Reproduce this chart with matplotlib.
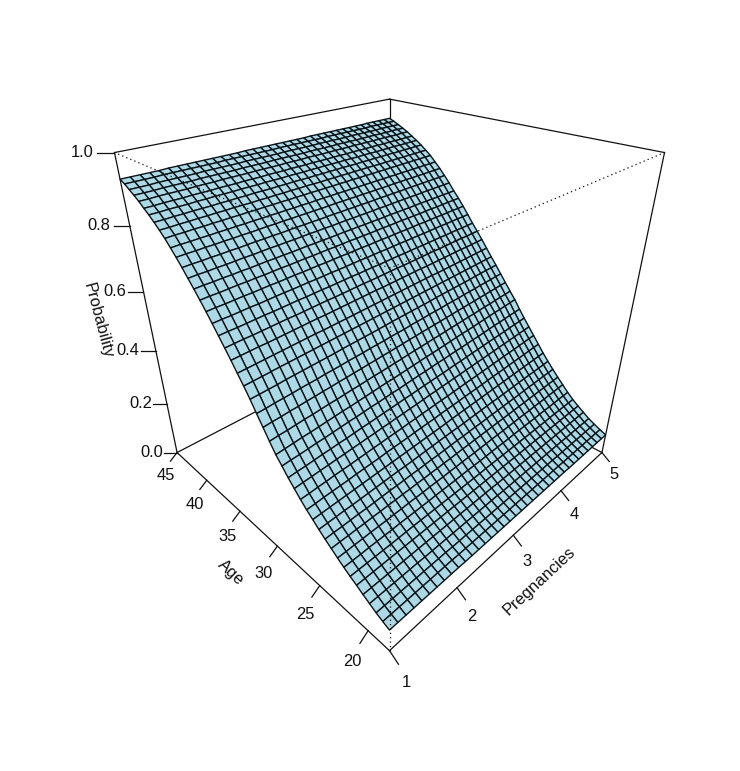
import numpy as np
import matplotlib
matplotlib.use("Agg")
import matplotlib.pyplot as plt
from mpl_toolkits.mplot3d import proj3d

plt.rcParams['font.family'] = ['Liberation Sans', 'DejaVu Sans']

preg_ticks = [1, 2, 3, 4, 5]
age_ticks = [20, 25, 30, 35, 40, 45]
prob_ticks = [0.0, 0.2, 0.4, 0.6, 0.8, 1.0]

P0, P1 = 1, 5
A0, A1 = 18, 45

# probability x 1000. one row per age (18 to 45), one column per pregnancy value (1 to 5)
prob_rows = [
    [77,77,77,77,77,77,77,77,77,77,76,76,76,76,76,76,76,76,76,76,76,76,76,76,76,76,76,76,75,75,75,75,75,75,75,75,75],
    [86,86,86,86,86,86,86,86,86,86,85,85,85,85,85,85,85,85,85,85,85,85,85,85,85,85,85,85,84,84,84,84,84,84,84,84,84],
    [96,96,96,96,96,96,96,96,96,96,95,95,95,95,95,95,95,95,95,95,95,95,95,95,95,95,95,95,94,94,94,94,94,94,94,94,94],
    [108,108,108,108,108,108,108,107,107,107,107,107,107,107,107,107,107,107,107,106,106,106,106,106,106,106,106,106,106,106,106,105,105,105,105,105,105],
    [120,120,120,120,120,120,120,120,120,120,120,120,120,120,120,120,120,120,120,119,119,119,119,119,119,119,119,119,119,119,119,119,119,119,119,119,119],
    [133,133,133,133,133,133,133,133,133,133,133,133,133,133,133,133,133,133,133,133,133,133,133,133,133,133,133,133,133,133,133,133,133,133,133,133,133],
    [145,145,145,145,145,145,145,146,146,146,146,146,146,146,146,146,146,146,146,147,147,147,147,147,147,147,147,147,147,147,147,148,148,148,148,148,148],
    [158,158,158,159,159,159,159,160,160,160,160,160,161,161,161,161,162,162,162,162,162,163,163,163,163,164,164,164,164,164,165,165,165,165,166,166,166],
    [172,172,173,173,174,174,174,175,175,176,176,176,177,177,177,178,178,179,179,179,180,180,181,181,181,182,182,183,183,183,184,184,184,185,185,186,186],
    [187,188,188,189,189,190,190,191,191,192,192,193,193,194,194,195,195,196,197,197,198,198,199,199,200,200,201,201,202,202,203,203,204,204,205,205,206],
    [202,203,203,204,205,205,206,207,208,208,209,210,210,211,212,212,213,214,215,215,216,217,217,218,219,219,220,221,221,222,223,224,224,225,226,226,227],
    [218,219,220,221,221,222,223,224,225,226,227,227,228,229,230,231,232,233,234,234,235,236,237,238,239,240,240,241,242,243,244,245,246,246,247,248,249],
    [235,236,237,238,239,240,241,242,243,244,245,246,247,248,249,250,251,252,253,255,256,257,258,259,260,261,262,263,264,265,266,267,268,269,270,271,272],
    [252,253,255,256,257,258,260,261,262,263,265,266,267,268,270,271,272,273,275,276,277,278,280,281,282,283,285,286,287,288,290,291,292,293,295,296,297],
    [271,272,274,275,277,278,279,281,282,284,285,287,288,289,291,292,294,295,297,298,299,301,302,304,305,306,308,309,311,312,314,315,316,318,319,321,322],
    [292,294,295,297,298,300,301,303,304,306,307,309,310,312,313,315,316,318,320,321,323,324,326,327,329,330,332,333,335,336,338,339,341,342,344,345,347],
    [313,315,316,318,320,321,323,324,326,328,329,331,333,334,336,338,339,341,343,344,346,347,349,351,352,354,356,357,359,361,362,364,365,367,369,370,372],
    [337,339,340,342,344,345,347,349,351,352,354,356,357,359,361,362,364,366,368,369,371,373,374,376,378,379,381,383,384,386,388,390,391,393,395,396,398],
    [360,362,364,366,367,369,371,373,375,376,378,380,382,384,386,387,389,391,393,395,397,398,400,402,404,406,408,409,411,413,415,417,419,420,422,424,426],
    [390,392,393,395,397,398,400,402,403,405,407,408,410,412,413,415,417,418,420,422,423,425,427,428,430,432,433,435,437,438,440,442,443,445,447,448,450],
    [421,423,424,426,427,429,430,432,433,435,436,438,439,441,442,444,445,447,448,450,451,453,454,456,457,459,460,462,463,465,466,468,469,471,472,474,475],
    [452,453,455,456,457,459,460,461,463,464,465,467,468,469,471,472,473,475,476,477,479,480,481,483,484,485,487,488,489,491,492,493,495,496,497,499,500],
    [484,485,486,487,489,490,491,492,493,494,495,497,498,499,500,501,502,503,505,506,507,508,509,510,511,513,514,515,516,517,518,519,521,522,523,524,525],
    [513,514,515,516,517,518,519,520,521,522,523,524,525,526,527,528,529,530,531,532,533,534,535,536,537,538,539,540,541,542,543,544,545,546,547,548,549],
    [540,541,542,543,544,545,546,547,548,549,549,550,551,552,553,554,555,556,557,558,559,560,561,562,563,564,565,565,566,567,568,569,570,571,572,573,574],
    [568,569,570,571,571,572,573,574,575,576,577,577,578,579,580,581,582,583,584,584,585,586,587,588,589,590,590,591,592,593,594,595,596,596,597,598,599],
    [594,595,596,596,597,598,599,600,600,601,602,603,604,604,605,606,607,608,608,609,610,611,612,612,613,614,615,616,617,617,618,619,620,621,621,622,623],
    [620,621,621,622,623,624,624,625,626,627,627,628,629,629,630,631,632,632,633,634,634,635,636,637,637,638,639,639,640,641,642,642,643,644,644,645,646],
    [646,647,647,648,649,649,650,651,652,652,653,654,654,655,656,656,657,658,659,659,660,661,661,662,663,663,664,665,665,666,667,668,668,669,670,670,671],
    [671,672,672,673,674,674,675,676,676,677,678,678,679,680,680,681,682,682,683,684,684,685,686,686,687,688,688,689,690,690,691,692,692,693,694,694,695],
    [695,696,696,697,698,698,699,699,700,701,701,702,703,703,704,705,705,706,707,707,708,708,709,710,710,711,712,712,713,713,714,715,715,716,717,717,718],
    [718,719,719,720,720,721,721,722,723,723,724,724,725,726,726,727,727,728,729,729,730,730,731,731,732,733,733,734,734,735,736,736,737,737,738,738,739],
    [740,741,741,742,742,743,744,744,745,746,746,747,747,748,749,749,750,750,751,752,752,753,753,754,755,755,756,757,757,758,758,759,760,760,761,761,762],
    [762,763,763,764,764,765,765,766,767,767,768,768,769,770,770,771,771,772,773,773,774,774,775,775,776,777,777,778,778,779,780,780,781,781,782,782,783],
    [783,784,784,785,785,786,786,787,787,788,789,789,790,790,791,791,792,792,793,794,794,795,795,796,796,797,797,798,799,799,800,800,801,801,802,802,803],
    [802,803,803,804,804,805,805,806,806,807,807,808,808,809,809,810,810,811,812,812,813,813,814,814,815,815,816,816,817,817,818,818,819,819,820,820,821],
    [821,822,822,823,823,824,824,825,825,826,826,827,827,828,828,829,829,830,830,831,831,832,832,833,833,834,834,835,835,836,836,837,837,838,838,839,839],
    [837,837,838,838,839,839,840,840,841,841,841,842,842,843,843,844,844,845,845,845,846,846,847,847,848,848,849,849,849,850,850,851,851,852,852,853,853],
    [852,852,853,853,854,854,854,855,855,856,856,857,857,857,858,858,859,859,859,860,860,861,861,862,862,862,863,863,864,864,865,865,865,866,866,867,867],
    [866,866,867,867,867,868,868,869,869,869,870,870,870,871,871,871,872,872,872,873,873,874,874,874,875,875,875,876,876,876,877,877,878,878,878,879,879],
    [878,878,879,879,879,880,880,880,881,881,881,882,882,882,883,883,883,884,884,884,885,885,885,886,886,886,887,887,887,888,888,888,889,889,889,890,890],
    [891,891,892,892,892,892,893,893,893,894,894,894,894,895,895,895,895,896,896,896,897,897,897,897,898,898,898,899,899,899,899,900,900,900,900,901,901],
    [902,902,902,903,903,903,903,904,904,904,904,904,905,905,905,905,906,906,906,906,906,907,907,907,907,908,908,908,908,908,909,909,909,909,910,910,910],
    [912,912,912,913,913,913,913,913,914,914,914,914,914,915,915,915,915,915,916,916,916,916,916,917,917,917,917,917,918,918,918,918,918,919,919,919,919],
    [922,922,922,922,923,923,923,923,923,923,923,924,924,924,924,924,924,924,925,925,925,925,925,925,925,926,926,926,926,926,926,926,927,927,927,927,927],
    [930,930,930,930,930,931,931,931,931,931,931,931,931,931,932,932,932,932,932,932,932,932,932,933,933,933,933,933,933,933,933,933,934,934,934,934,934],
]

prob = np.array(prob_rows) / 1000
age = np.linspace(A0, A1, prob.shape[0])
preg = np.linspace(P0, P1, prob.shape[1])

W, H = 740, 771
side = 570
cx, cy = 381.8, 329.5

fig = plt.figure(figsize=(W / 100, H / 100), dpi=100)
ax = fig.add_axes([(cx - side / 2) / W, (H - cy - side / 2) / H, side / W, side / H],
                  projection='3d', computed_zorder=False)
ax.set_xlim(P0, P1, view_margin=0)
ax.set_ylim(A0, A1, view_margin=0)
ax.set_zlim(0, 1, view_margin=0)
ax.set_box_aspect((1, 1, 1))
ax.view_init(elev=29.5, azim=225)
ax.set_proj_type('persp', focal_length=0.211)
ax.set_axis_off()
M = ax.get_proj()


def seg(x, y, z, **kw):
    kw.setdefault('color', '#111111')
    kw.setdefault('lw', 0.9)
    ax.plot(x, y, z, clip_on=False, **kw)


def label(x, y, z, s):
    sx, sy, _ = proj3d.proj_transform(x, y, z, M)
    ax.text2D(sx, sy, s, transform=ax.transData, fontsize=fs, ha='center', va='center', color='#111111', clip_on=False)


# back of box, hidden by the surface
seg([P0, P1], [A1, A1], [1, 1], zorder=1)
seg([P1, P1], [A1, A0], [1, 1], zorder=1)
seg([P1, P1], [A1, A1], [0, 1], zorder=1)
seg([P0, P1], [A1, A1], [0, 0], zorder=1)
seg([P1, P1], [A1, A0], [0, 0], zorder=1)

surf = ax.plot_surface(*np.meshgrid(preg, age), prob, rstride=1, cstride=1, color='#ADD8E6',
                       edgecolor='#0a1418', linewidth=1.0, shade=False, zorder=2)
surf.set_clip_on(False)

# front of box
seg([P0, P1], [A0, A0], [0, 0], zorder=3)
seg([P0, P0], [A0, A1], [0, 0], zorder=3)
seg([P0, P0], [A1, A1], [0, 1], zorder=3)
seg([P1, P1], [A0, A0], [0, 1], zorder=3)
for x, y, z in [([P0, P0], [A0, A0], [0, 1]), ([P0, P1], [A0, A0], [1, 1]), ([P0, P0], [A0, A1], [1, 1])]:
    seg(x, y, z, ls=(0, (1, 2.5)), lw=0.9, zorder=3)

fs = 11.9
dp = 0.112
da = 0.81
dz = 0.02
for a in age_ticks:
    seg([P0, P0 - dp], [a, a], [0, -dz], zorder=3)
    label(P0 - 1.9 * dp, a, -3.3 * dz, str(a))
for p in preg_ticks:
    seg([p, p], [A0, A0 - da], [0, -dz], zorder=3)
    label(p, A0 - 1.85 * da, -3.1 * dz, str(p))
for z in prob_ticks:
    seg([P0, P0 - 0.124], [A1, A1 + 0.837], [z, z], zorder=3)
    label(P0 - 1.9 * 0.124, A1 + 1.9 * 0.837, z, f'{z:.1f}')


def title(px, py, s, rot):
    fig.text(px / W, 1 - py / H, s, fontsize=fs, rotation=rot, ha='center', va='center',
             rotation_mode='anchor', color='#111111')


title(98, 321, 'Probability', -75)
title(231, 573, 'Age', -43)
title(539, 581, 'Pregnancies', 43)

fig.savefig('out.png', dpi=100)
